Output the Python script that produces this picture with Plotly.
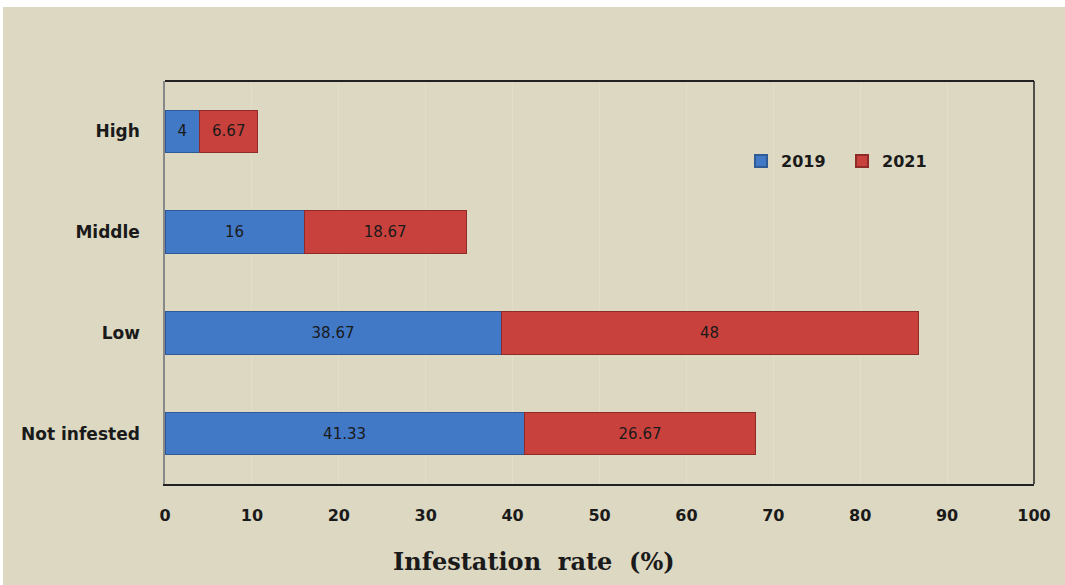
import plotly.graph_objects as go

categories = ["Not infested", "Low", "Middle", "High"]
values_2019 = [41.33, 38.67, 16, 4]
values_2021 = [26.67, 48, 18.67, 6.67]
x_ticks = [0, 10, 20, 30, 40, 50, 60, 70, 80, 90, 100]

BG = "#DDD8C2"
W, H = 1065, 585
L, R, T, B = 165, 31, 81, 101
pw, ph = W - L - R, H - T - B

fig = go.Figure()
fig.add_trace(go.Bar(
    y=categories, x=values_2019, orientation="h", name="2019",
    marker=dict(color="#4179C6", line=dict(color="#2E5A96", width=1)),
    text=[str(v) for v in values_2019], textposition="inside",
    insidetextanchor="middle",
    textfont=dict(family="DejaVu Sans", size=15, color="#1a1a1a"),
))
fig.add_trace(go.Bar(
    y=categories, x=values_2021, orientation="h", name="2021",
    marker=dict(color="#C9413D", line=dict(color="#8E2B28", width=1)),
    text=[str(v) for v in values_2021], textposition="inside",
    insidetextanchor="middle",
    textfont=dict(family="DejaVu Sans", size=15, color="#1a1a1a"),
))

def px_x(p):
    return (p - L) / pw

def px_y(p):
    return (H - B - p) / ph

shapes = [
    dict(type="rect", xref="paper", yref="paper", x0=px_x(0), x1=px_x(W + 5),
         y0=px_y(7), y1=px_y(-5), fillcolor="white", line=dict(width=0), layer="below"),
    dict(type="rect", xref="paper", yref="paper", x0=px_x(-5), x1=px_x(3),
         y0=px_y(H + 5), y1=px_y(-5), fillcolor="white", line=dict(width=0), layer="below"),
    dict(type="line", xref="paper", yref="paper", x0=0, x1=1, y0=1, y1=1,
         line=dict(color="#222222", width=2)),
    dict(type="line", xref="paper", yref="paper", x0=1, x1=1, y0=0, y1=1,
         line=dict(color="#222222", width=1.5)),
]

annotations = [
    dict(text="<b>Infestation  rate  (%)</b>", xref="paper", yref="paper",
         x=px_x(534), y=px_y(561), xanchor="center", yanchor="middle", showarrow=False,
         font=dict(family="DejaVu Serif", size=24, color="#1a1a1a")),
]

fig.update_layout(
    width=W, height=H,
    margin=dict(l=L, r=R, t=T, b=B, pad=0),
    paper_bgcolor=BG, plot_bgcolor=BG,
    barmode="stack", bargap=0.58,
    shapes=shapes, annotations=annotations,
    showlegend=True,
    legend=dict(
        orientation="h", x=px_x(741), y=px_y(161), xanchor="left", yanchor="middle",
        bgcolor="rgba(0,0,0,0)", entrywidth=56, entrywidthmode="pixels",
        font=dict(family="DejaVu Sans", size=16, color="#1a1a1a", weight="bold"),
        itemsizing="constant", traceorder="normal",
    ),
    xaxis=dict(
        range=[0, 100], tickvals=x_ticks, ticktext=[str(t) for t in x_ticks],
        showgrid=True, gridcolor="#E2DECB", gridwidth=1,
        showline=True, linecolor="#222222", linewidth=2,
        zeroline=False, ticks="", ticklabelstandoff=16,
        tickfont=dict(family="DejaVu Sans", size=16, color="#1a1a1a", weight="bold"),
        fixedrange=True,
    ),
    yaxis=dict(
        categoryorder="array", categoryarray=categories,
        showline=True, linecolor="#888888", linewidth=1.5,
        showgrid=False, ticks="", ticklabelstandoff=20,
        tickfont=dict(family="DejaVu Sans", size=17, color="#1a1a1a", weight="bold"),
        fixedrange=True,
    ),
)

fig.write_html("out.html", config={"displayModeBar": False},
               post_script="document.body.style.margin='0';")
